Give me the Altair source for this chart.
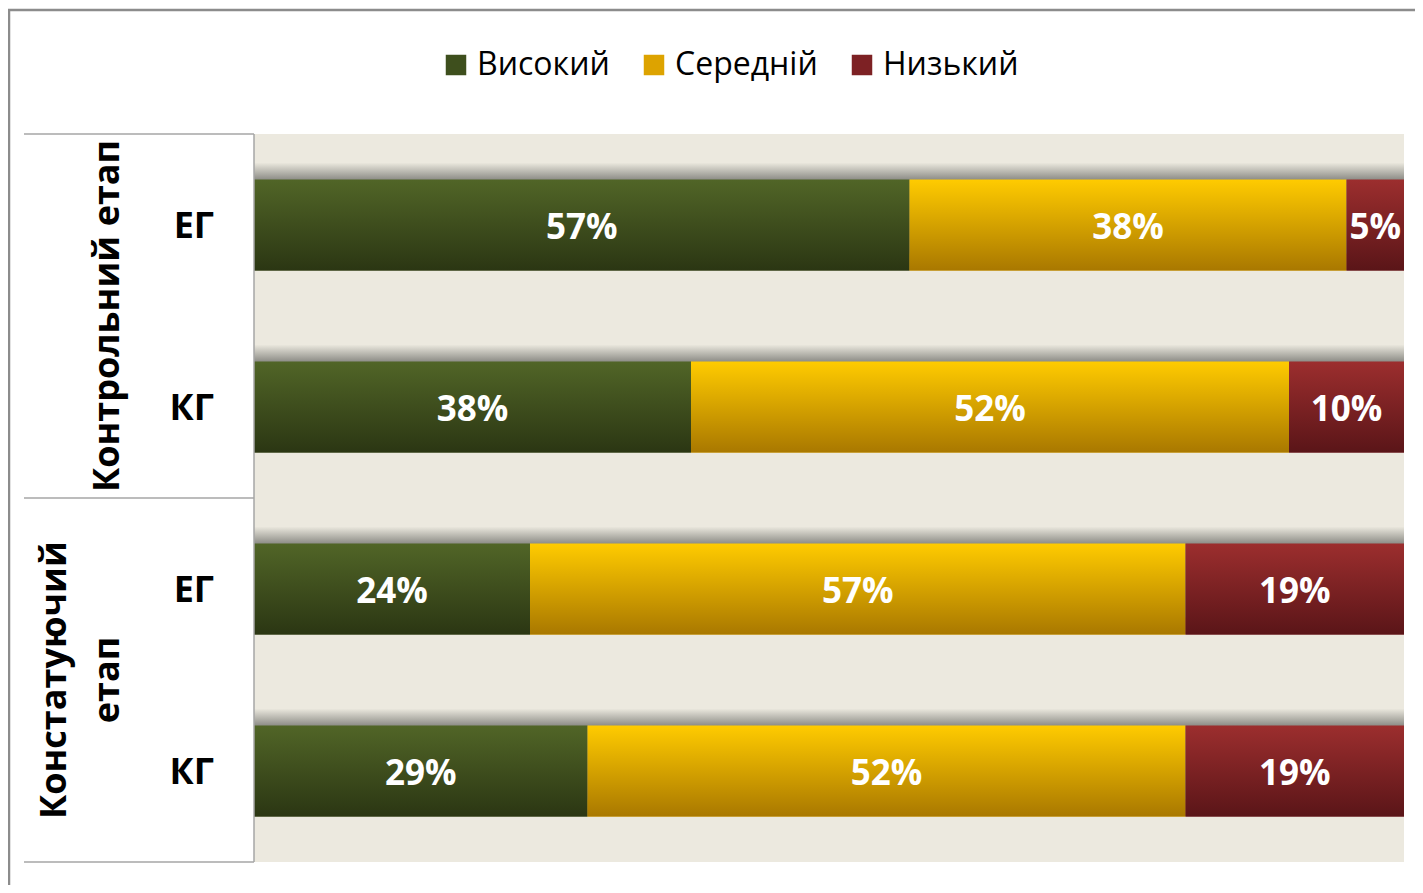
import altair as alt
import pandas as pd

# ---- data ----
levels = ["Високий", "Середній", "Низький"]
stages = ["Контрольний етап", "Констатуючий етап"]
stage_labels = ["Контрольний етап", "Констатуючий\nетап"]
groups = ["ЕГ", "КГ", "ЕГ", "КГ"]
row_stage = [0, 0, 1, 1]
high = [57, 38, 24, 29]
mid = [38, 52, 57, 52]
low = [5, 10, 19, 19]

rows = [stages[s] + "|" + g for s, g in zip(row_stage, groups)]
series = [high, mid, low]

records = []
for i, r in enumerate(rows):
    for k, lv in enumerate(levels):
        records.append({"row": r, "level": lv, "order": k, "value": series[k][i]})
df = pd.DataFrame(records)

W, H = 1150, 728
STEP = H / 4
HALF_GAP = STEP * 0.5 / 2
FONT = "Open Sans"

solid_colors = ["#3E4F1D", "#DDA300", "#7D2124"]
grads = [
    ("#516527", "#2B3613"),
    ("#FFCB00", "#A97800"),
    ("#9C2E2E", "#5A1518"),
]

y_scale = alt.Scale(domain=rows, paddingInner=0.5, paddingOuter=0.25)
x_scale = alt.Scale(domain=[0, 100], nice=False, zero=True)

base = alt.Chart(df).transform_stack(
    stack="value", groupby=["row"], as_=["x0", "x1"],
    sort=[alt.SortField("order", order="ascending")]
)

Y = alt.Y("row:N", scale=y_scale, axis=None, title=None)

solid = base.mark_bar().encode(
    y=Y,
    x=alt.X("x0:Q", scale=x_scale, axis=None),
    x2="x1:Q",
    color=alt.Color("level:N", scale=alt.Scale(domain=levels, range=solid_colors), title=None,
                    legend=alt.Legend(orient="none", legendX=186, legendY=-85, direction="horizontal",
                                      symbolType="square", symbolSize=420, labelFontSize=32,
                                      labelFont=FONT, labelColor="black", columnPadding=28,
                                      labelOffset=5, symbolStrokeWidth=0)),
)

# shadow above each bar
shadow_grad = alt.Gradient(
    gradient="linear", x1=0, x2=0, y1=0, y2=1,
    stops=[alt.GradientStop(color="#ECE9DF", offset=0),
           alt.GradientStop(color="#8C8C86", offset=0.19),
           alt.GradientStop(color="#8C8C86", offset=1)],
)
shadow = base.transform_filter(alt.datum.order == 0).mark_bar(
    fill=shadow_grad, yOffset=-17
).encode(y=Y, x=alt.value(0), x2=alt.value(W))

grad_layers = []
for k, lv in enumerate(levels):
    g = alt.Gradient(gradient="linear", x1=0, x2=0, y1=0, y2=1,
                     stops=[alt.GradientStop(color=grads[k][0], offset=0),
                            alt.GradientStop(color=grads[k][1], offset=1)])
    grad_layers.append(
        base.transform_filter(alt.datum.level == lv).mark_bar(fill=g).encode(
            y=Y,
            x=alt.X("x0:Q", scale=x_scale, axis=None),
            x2="x1:Q",
        )
    )

labels = base.transform_calculate(
    mid="(datum.x0 + datum.x1) / 2", label="datum.value + '%'"
).mark_text(font=FONT, fontSize=35, fontWeight="bold", color="white",
            baseline="middle", align="center", dy=3).encode(
    y=Y,
    x=alt.X("mid:Q", scale=x_scale, axis=None),
    text="label:N",
)

# inner group labels (ЕГ / КГ)
group_df = pd.DataFrame({"row": rows, "group": groups})
group_text = alt.Chart(group_df).mark_text(
    font=FONT, fontSize=36, fontWeight="bold", color="black",
    align="right", baseline="middle", dy=2
).encode(y=Y, x=alt.value(-40), text="group:N")

# stage labels
stage_df = pd.DataFrame({"first_row": [rows[0], rows[2]], "stage": stage_labels})
stage1 = alt.Chart(stage_df.iloc[[0]]).mark_text(
    font=FONT, fontSize=36, fontWeight="bold", color="black", angle=270,
    align="center", baseline="middle", lineBreak="\n", lineHeight=53, yOffset=HALF_GAP
).encode(
    y=alt.Y("first_row:N", scale=y_scale, axis=None, bandPosition=1),
    x=alt.value(-146), text="stage:N",
)
stage2 = alt.Chart(stage_df.iloc[[1]]).mark_text(
    font=FONT, fontSize=36, fontWeight="bold", color="black", angle=270,
    align="center", baseline="middle", lineBreak="\n", lineHeight=53, yOffset=HALF_GAP
).encode(
    y=alt.Y("first_row:N", scale=y_scale, axis=None, bandPosition=1),
    x=alt.value(-199), text="stage:N",
)

one = pd.DataFrame({"a": [0]})
line_col = "#A6A6A6"
top_rule = alt.Chart(one).mark_rule(color=line_col, strokeWidth=1.5).encode(
    x=alt.value(-230), x2=alt.value(0), y=alt.value(0))
bot_rule = alt.Chart(one).mark_rule(color=line_col, strokeWidth=1.5).encode(
    x=alt.value(-230), x2=alt.value(0), y=alt.value(H))
mid_rule = alt.Chart(pd.DataFrame({"first_row": [rows[1]]})).mark_rule(
    color=line_col, strokeWidth=1.5, yOffset=HALF_GAP).encode(
    x=alt.value(-230), x2=alt.value(0),
    y=alt.Y("first_row:N", scale=y_scale, axis=None, bandPosition=1))
v_rule = alt.Chart(one).mark_rule(color=line_col, strokeWidth=1.5).encode(
    x=alt.value(0), y=alt.value(0), y2=alt.value(H))

frame = alt.Chart(one).mark_rect(fillOpacity=0, stroke="#8C8C8C", strokeWidth=2.5).encode(
    x=alt.value(-245), x2=alt.value(W + 60), y=alt.value(-124), y2=alt.value(H + 60))

chart = alt.layer(
    solid, shadow, *grad_layers, labels, group_text, stage1, stage2,
    top_rule, mid_rule, bot_rule, v_rule, frame
).properties(
    width=W, height=H,
    background="white",
    padding={"left": 246, "top": 126, "right": 11, "bottom": 23},
    autosize=alt.AutoSizeParams(type="none"),
).configure_view(fill="#ECE9DF", strokeWidth=0)

chart.save("out.html", embed_options={"renderer": "svg", "actions": False})
